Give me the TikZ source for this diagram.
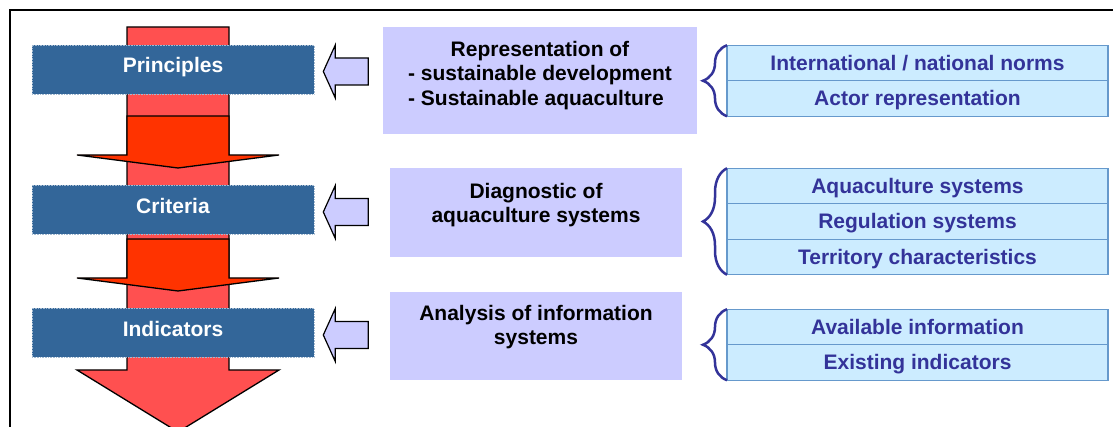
\documentclass[tikz,border=0pt]{standalone}
\usepackage{fontspec}
\usepackage{calc}
\setmainfont{Liberation Sans}
\usetikzlibrary{positioning,decorations.pathreplacing}

\definecolor{flowred}{HTML}{FF5050}
\definecolor{stepred}{HTML}{FF3300}
\definecolor{barblue}{HTML}{336699}
\definecolor{lilac}{HTML}{CCCCFF}
\definecolor{paleblue}{HTML}{CCECFF}
\definecolor{rowedge}{HTML}{6699CC}
\definecolor{ink}{HTML}{333399}

\begin{document}
\begin{tikzpicture}[x=1pt,y=-1pt,
    every node/.style={font=\bfseries\fontsize{21}{24.5}\selectfont},
    bar/.style={fill=barblue, draw=barblue!45!white, densely dotted, line width=0.6pt,
        minimum width=282pt, minimum height=49pt, inner sep=0pt, text=white,
        text height=15pt, text depth=8pt},
    feed/.style={fill=lilac, draw=black, line width=1.2pt, line join=miter},
    note/.style={fill=lilac, inner sep=0pt},
    notetext/.style={align=center, inner sep=0pt},
    row/.style={fill=paleblue, draw=rowedge, line width=1.2pt, text=ink,
        minimum width=381pt, minimum height=35.5pt, inner sep=0pt, outer sep=0pt,
        text height=17pt, text depth=2pt},
    curly/.style={decorate, decoration={brace, amplitude=24pt}, draw=ink, line width=2.5pt}]

    \useasboundingbox (0,0) rectangle (1117,427);
    \draw[line width=2pt] (10,427) -- (10,10) -- (1113,10);

    % flow arrow
    \draw[fill=flowred, line width=1.3pt, line join=miter]
        (127,27) -- (229,27) -- (229,370) -- (279,370) -- (178,432) -- (77,370) -- (127,370) -- cycle;
    \foreach \y in {116,239}{
        \draw[fill=stepred, line width=1.3pt]
            (127,\y) -- (229,\y) -- (229,\y+39) -- (279,\y+39) -- (178,\y+52) -- (77,\y+39) -- (127,\y+39) -- cycle;
    }

    % levels
    \node[bar] (principles) at (173,69.5) {Principles};
    \node[bar] (criteria) at (173,210) {Criteria};
    \node[bar] (indicators) at (173,333) {Indicators};

    \foreach \lvl in {principles,criteria,indicators}{
        \draw[feed] ([xshift=9pt,yshift=-2pt]\lvl.east) -- ++(12,-26.5) -- ++(0,13) -- ++(33,0)
            -- ++(0,27) -- ++(-33,0) -- ++(0,13) -- cycle;
    }

    % middle boxes
    \node[note, minimum width=314pt, minimum height=107pt] (repbox) at (540,80.5) {};
    \node[notetext, below=14pt of repbox.north] (reptext) {Representation of\\
        - sustainable development\\
        \makebox[\widthof{- sustainable development}][l]{- Sustainable aquaculture}};
    \node[note, minimum width=292pt, minimum height=89pt] (diagbox) at (536,212.5) {};
    \node[notetext, below=15pt of diagbox.north] (diagtext) {Diagnostic of\\aquaculture systems};
    \node[note, minimum width=292pt, minimum height=88pt] (anabox) at (536,336) {};
    \node[notetext, below=13pt of anabox.north] (anatext) {Analysis of information\\systems};

    % sources
    \node[row] (norms) at (917.5,63) {International / national norms};
    \node[row, below=0pt of norms] (actors) {Actor representation};

    \node[row] (aquasys) at (917.5,186) {Aquaculture systems};
    \node[row, below=0pt of aquasys] (regsys) {Regulation systems};
    \node[row, below=0pt of regsys] (territory) {Territory characteristics};

    \node[row] (avail) at (917.5,327) {Available information};
    \node[row, below=0pt of avail] (existing) {Existing indicators};

    \draw[curly] (actors.south west) -- (norms.north west);
    \draw[curly] (territory.south west) -- (aquasys.north west);
    \draw[curly] (existing.south west) -- (avail.north west);

\end{tikzpicture}
\end{document}
